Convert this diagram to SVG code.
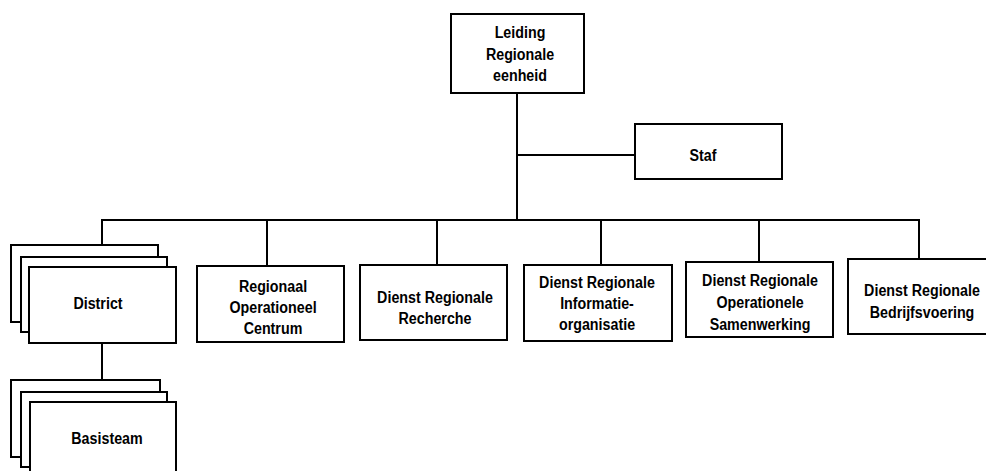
<svg xmlns="http://www.w3.org/2000/svg" width="986" height="471" viewBox="0 0 986 471">
<style>
.box{fill:#fff;stroke:#000;stroke-width:2}
.ln{fill:none;stroke:#000;stroke-width:2}
text{font-family:"Liberation Sans",Arial,sans-serif;font-weight:bold;font-size:17px;text-anchor:middle;fill:#000}
</style>
<rect width="986" height="471" fill="#fff"/>
<g id="connectors">
<path class="ln" d="M517 93V220M517 155H635"/>
<path class="ln" d="M102 245V220H919V259"/>
<path class="ln" d="M267 220V266M437 220V265M601 220V265M759 220V262"/>
<path class="ln" d="M102 343V380"/>
</g>
<g id="leiding">
<rect class="box" x="451" y="14" width="133" height="79"/>
<text transform="translate(520 38) scale(.84 1)">Leiding</text>
<text transform="translate(520 60) scale(.84 1)">Regionale</text>
<text transform="translate(520 81) scale(.84 1)">eenheid</text>
</g>
<g id="staf">
<rect class="box" x="635" y="124" width="147" height="55"/>
<text transform="translate(703 161) scale(.84 1)">Staf</text>
</g>
<g id="district">
<rect class="box" x="11" y="245" width="147" height="77"/>
<rect class="box" x="21" y="257" width="146" height="75"/>
<rect class="box" x="29" y="267" width="147" height="76"/>
<text transform="translate(98 309) scale(.84 1)">District</text>
</g>
<g id="basisteam">
<rect class="box" x="11" y="380" width="149" height="77"/>
<rect class="box" x="21" y="392" width="146" height="75"/>
<rect class="box" x="30" y="402" width="146" height="80"/>
<text transform="translate(107 444) scale(.84 1)">Basisteam</text>
</g>
<g id="roc">
<rect class="box" x="197" y="266" width="147" height="76"/>
<text transform="translate(273 292) scale(.84 1)">Regionaal</text>
<text transform="translate(273 313) scale(.84 1)">Operationeel</text>
<text transform="translate(273 334) scale(.84 1)">Centrum</text>
</g>
<g id="recherche">
<rect class="box" x="360" y="265" width="147" height="75"/>
<text transform="translate(435 303) scale(.84 1)">Dienst Regionale</text>
<text transform="translate(435 324) scale(.84 1)">Recherche</text>
</g>
<g id="informatie">
<rect class="box" x="524" y="265" width="148" height="76"/>
<text transform="translate(597 288) scale(.84 1)">Dienst Regionale</text>
<text transform="translate(597 309) scale(.84 1)">Informatie-</text>
<text transform="translate(597 330) scale(.84 1)">organisatie</text>
</g>
<g id="samenwerking">
<rect class="box" x="686" y="262" width="147" height="75"/>
<text transform="translate(760 286) scale(.84 1)">Dienst Regionale</text>
<text transform="translate(760 308) scale(.84 1)">Operationele</text>
<text transform="translate(760 330) scale(.84 1)">Samenwerking</text>
</g>
<g id="bedrijfsvoering">
<rect class="box" x="848" y="259" width="148" height="75"/>
<text transform="translate(922 296) scale(.84 1)">Dienst Regionale</text>
<text transform="translate(922 318) scale(.84 1)">Bedrijfsvoering</text>
</g>
</svg>
